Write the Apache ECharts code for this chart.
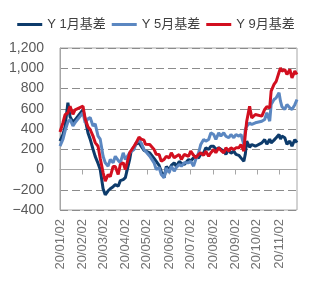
<!DOCTYPE html>
<html>
<head>
<meta charset="utf-8">
<script src="https://cdn.jsdelivr.net/npm/echarts@6/dist/echarts.min.js"></script>
<style>html,body{margin:0;padding:0;background:#fff;}#c{width:312px;height:284px;}</style>
</head>
<body>
<div id="c"></div>
<script>
var seriesNames = ['Y 1月基差', 'Y 5月基差', 'Y 9月基差'];
var tickLabels = ['20/01/02','20/02/02','20/03/02','20/04/02','20/05/02','20/06/02','20/07/02','20/08/02','20/09/02','20/10/02','20/11/02'];
var yTicks = [-400, -200, 0, 200, 400, 600, 800, 1000, 1200];
var dates = ['2020-01-02','2020-01-06','2020-01-09','2020-01-13','2020-01-16','2020-01-20','2020-01-23',
'2020-02-03','2020-02-06','2020-02-10','2020-02-13','2020-02-17','2020-02-20','2020-02-24','2020-02-27',
'2020-03-02','2020-03-05','2020-03-09','2020-03-12','2020-03-16','2020-03-19','2020-03-23','2020-03-26','2020-03-30',
'2020-04-02','2020-04-08','2020-04-10','2020-04-14','2020-04-17','2020-04-21','2020-04-24','2020-04-28','2020-04-30',
'2020-05-06','2020-05-08','2020-05-12','2020-05-15','2020-05-19','2020-05-22','2020-05-26','2020-05-29',
'2020-06-02','2020-06-05','2020-06-09','2020-06-12','2020-06-16','2020-06-19','2020-06-23','2020-06-29',
'2020-07-02','2020-07-06','2020-07-09','2020-07-13','2020-07-16','2020-07-20','2020-07-23','2020-07-27','2020-07-30',
'2020-08-03','2020-08-06','2020-08-10','2020-08-13','2020-08-17','2020-08-20','2020-08-24','2020-08-27','2020-08-31',
'2020-09-03','2020-09-07','2020-09-10','2020-09-14','2020-09-16','2020-09-18','2020-09-22','2020-09-25','2020-09-30',
'2020-10-09','2020-10-13','2020-10-16','2020-10-20','2020-10-22','2020-10-26','2020-10-29',
'2020-11-02','2020-11-04','2020-11-06','2020-11-10','2020-11-13','2020-11-17','2020-11-20','2020-11-24','2020-11-27'];
var y1 = [280,345,420,660,520,470,490,
590,500,360,300,200,130,60,0,
-190,-250,-210,-190,-170,-150,-165,-110,-100,
-80,100,180,220,250,265,230,190,175,
165,165,110,80,40,-20,-80,30,
0,40,66,30,80,60,50,99,
85,115,130,115,150,165,214,198,230,
230,198,214,200,181,150,200,160,181,
150,140,115,82,150,280,220,247,230,
263,296,250,300,263,290,313,
346,300,330,313,250,280,230,296,265];
var y5 = [230,296,380,470,494,430,463,
560,463,500,513,430,450,330,300,
131,66,33,99,66,131,90,66,165,
99,165,180,198,263,290,263,198,180,
131,120,66,0,20,-49,-82,16,
-33,33,-16,20,49,33,66,66,
82,33,99,165,247,296,280,296,362,
346,296,362,330,362,329,313,346,313,
346,330,346,247,395,428,460,445,461,
477,494,560,477,642,691,708,
757,675,620,593,642,609,593,640,691];
var y9 = [370,460,540,560,625,545,590,
625,500,420,395,330,266,230,110,
-30,-115,-50,-70,30,30,-50,50,66,
0,165,180,230,263,320,300,290,250,
247,230,198,150,148,82,100,131,
115,165,115,130,148,99,148,131,
181,140,115,148,165,140,181,131,165,
198,165,214,190,165,214,181,214,198,
214,214,247,181,346,477,625,510,543,
527,593,620,609,774,840,870,
960,1004,971,988,938,988,905,971,938];

function dayNum(y, m, d) { return Date.UTC(y, m - 1, d) / 86400000; }
function labelToDay(label) {
  var p = label.split('/');
  return dayNum(2000 + (+p[0]), +p[1], +p[2]);
}
function dateToDay(s) {
  var p = s.split('-');
  return dayNum(+p[0], +p[1], +p[2]);
}
var tickValues = tickLabels.map(labelToDay);
function pair(vals) { return dates.map(function (d, i) { return [dateToDay(d), vals[i]]; }); }
function fmtY(v) {
  var s = Math.abs(v).toString().replace(/\B(?=(\d{3})+(?!\d))/g, ',');
  return v < 0 ? '\u2212' + s : s;
}
var colors = ['#0d3b6b', '#5b87c1', '#d20f1f'];
var font = "'Liberation Sans', 'Noto Sans CJK SC', sans-serif";
var xMin = dateToDay(dates[0]), xMax = dateToDay(dates[dates.length - 1]);

var chart = echarts.init(document.getElementById('c'), null, {renderer: 'canvas'});
chart.setOption({
  animation: false,
  color: colors,
  textStyle: {fontFamily: font},
  legend: {
    top: 13, left: 'center', itemWidth: 25, itemHeight: 3, itemGap: 6, icon: 'rect',
    textStyle: {fontSize: 13, color: '#404040', fontFamily: font},
    data: seriesNames
  },
  grid: {left: 60, right: 15, top: 48, bottom: 74, show: true, borderColor: '#a6a6a6', borderWidth: 1, outerBoundsMode: 'none'},
  xAxis: {
    type: 'value', min: xMin, max: xMax, position: 'bottom',
    axisLine: {show: true, onZero: true, lineStyle: {color: '#a6a6a6', width: 1}},
    axisTick: {show: true, customValues: tickValues, length: 5, lineStyle: {color: '#a6a6a6'}},
    axisLabel: {show: false},
    splitLine: {show: false}
  },
  yAxis: {
    type: 'value', min: yTicks[0], max: yTicks[yTicks.length - 1], interval: 200,
    axisLine: {show: true, lineStyle: {color: '#a6a6a6'}},
    axisTick: {show: false},
    axisLabel: {fontSize: 14, color: '#595959', margin: 16, fontFamily: font, formatter: fmtY},
    splitLine: {show: true, lineStyle: {color: '#8c8c8c', type: [8, 4], width: 1}}
  },
  series: [
    {name: seriesNames[0], type: 'line', data: pair(y1), showSymbol: false, lineStyle: {width: 3}},
    {name: seriesNames[1], type: 'line', data: pair(y5), showSymbol: false, lineStyle: {width: 3}},
    {name: seriesNames[2], type: 'line', data: pair(y9), showSymbol: false, lineStyle: {width: 3}}
  ]
});

// bottom date labels, placed through the chart's own x scale
var labelTop = chart.convertToPixel({yAxisIndex: 0}, yTicks[0]) + 9;
chart.setOption({
  graphic: tickLabels.map(function (lab, i) {
    return {
      type: 'text',
      x: chart.convertToPixel({xAxisIndex: 0}, tickValues[i]),
      y: labelTop,
      rotation: Math.PI / 2,
      silent: true,
      style: {
        text: lab, align: 'right', verticalAlign: 'middle',
        fill: '#737373', fontSize: 13, fontFamily: font
      }
    };
  })
});
</script>
</body>
</html>
